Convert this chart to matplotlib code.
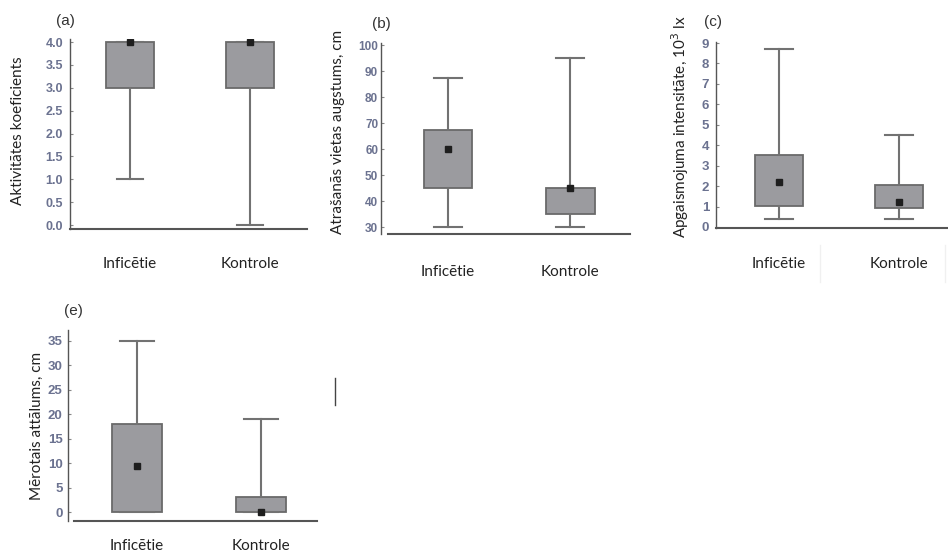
import matplotlib
matplotlib.use('Agg')
import matplotlib.pyplot as plt
from matplotlib.lines import Line2D

W, H = 948, 558

categories = ['Inficētie', 'Kontrole']

# (a) activity coefficient
a_low = [1.0, 0.0]
a_q1 = [3.0, 3.0]
a_q3 = [4.0, 4.0]
a_high = [4.0, 4.0]
a_mean = [4.0, 4.0]

# (b) height of location, cm
b_low = [30, 30]
b_q1 = [45, 35]
b_q3 = [67.5, 45]
b_high = [87.5, 95]
b_mean = [60, 45]

# (c) light intensity, 10^3 lx
c_low = [0.4, 0.4]
c_q1 = [1.05, 0.95]
c_q3 = [3.5, 2.05]
c_high = [8.7, 4.5]
c_mean = [2.2, 1.2]

# (e) measured distance, cm
e_low = [0, 0]
e_q1 = [0, 0]
e_q3 = [18, 3]
e_high = [35, 19]
e_mean = [9.5, 0]

BOX_FACE = '#9b9b9f'
BOX_EDGE = '#6a6a6a'
WHISK = '#727272'
TICK_COL = '#6b7290'
TEXT_FONT = ['Lato', 'DejaVu Sans']
NUM_FONT = ['Liberation Sans', 'DejaVu Sans']


def px_rect(left, right, top, bottom):
    return [left / W, 1 - bottom / H, (right - left) / W, (bottom - top) / H]


def panel(fig, rect, low, q1, q3, high, mean, xlim, ylim, yticks, fmt,
          cap, pad, bounds_lo=None, tick_size=9, ypad=3):
    ax = fig.add_axes(px_rect(*rect))
    stats = []
    for i in range(len(categories)):
        stats.append(dict(whislo=low[i], q1=q1[i], med=q1[i], q3=q3[i],
                          whishi=high[i], mean=mean[i]))
    ax.bxp(stats, positions=range(len(categories)), widths=0.4,
           capwidths=cap, patch_artist=True, showmeans=True,
           showfliers=False,
           boxprops=dict(facecolor=BOX_FACE, edgecolor=BOX_EDGE, linewidth=1.3),
           whiskerprops=dict(color=WHISK, linewidth=1.5),
           capprops=dict(color=WHISK, linewidth=1.5),
           medianprops=dict(linewidth=0),
           meanprops=dict(marker='s', markerfacecolor='#1e1e1e',
                          markeredgecolor='#1e1e1e', markersize=5))
    ax.set_xlim(*xlim)
    ax.set_ylim(*ylim)
    ax.set_yticks(yticks)
    ax.set_yticklabels([fmt % v for v in yticks], color=TICK_COL,
                       fontsize=tick_size, fontweight='bold', family=NUM_FONT)
    ax.set_xticks(range(len(categories)))
    ax.set_xticklabels(categories, fontsize=11, family=TEXT_FONT, color='#222222')
    ax.tick_params(axis='x', length=0, pad=pad)
    ax.tick_params(axis='y', direction='in', length=2, width=0.8,
                   color='#888888', pad=ypad)
    for s in ['top', 'right']:
        ax.spines[s].set_visible(False)
    ax.spines['left'].set_color('#555555')
    ax.spines['left'].set_linewidth(1.0)
    ax.spines['bottom'].set_color('#555555')
    ax.spines['bottom'].set_linewidth(1.5)
    if bounds_lo is not None:
        ax.spines['bottom'].set_bounds(bounds_lo, xlim[1])
    ax.patch.set_visible(False)
    return ax


fig = plt.figure(figsize=(W / 100, H / 100), dpi=100)

panel(fig, (70, 307, 39, 229), a_low, a_q1, a_q3, a_high, a_mean,
      (-0.5, 1.475), (-0.087, 4.066), [0, 0.5, 1, 1.5, 2, 2.5, 3, 3.5, 4],
      '%.1f', 0.21, 20, tick_size=9, ypad=5)
panel(fig, (381, 630, 43, 234), b_low, b_q1, b_q3, b_high, b_mean,
      (-0.549, 1.49), (27.31, 100.77), list(range(30, 101, 10)),
      '%d', 0.23, 22, bounds_lo=-0.492, tick_size=8.5, ypad=2)
panel(fig, (716, 948, 42, 228), c_low, c_q1, c_q3, c_high, c_mean,
      (-0.525, 1.408), (-0.05, 9.05), list(range(0, 10)),
      '%d', 0.23, 21, tick_size=9.5, ypad=5)
panel(fig, (68, 317, 330, 521), e_low, e_q1, e_q3, e_high, e_mean,
      (-0.556, 1.452), (-1.84, 37.25), list(range(0, 36, 5)),
      '%d', 0.27, 13, bounds_lo=-0.508, tick_size=9.5, ypad=4)

# axis titles and panel letters
ylabels = [
    (18, 131, 'Aktivitātes koeficients'),
    (338, 132, 'Atrašanās vietas augstums, cm'),
    (680, 127, 'Apgaismojuma intensitāte, 10$^3$ lx'),
    (37, 426, 'Mērotais attālums, cm'),
]
for x, y, t in ylabels:
    fig.text(x / W, 1 - y / H, t, rotation=90, ha='center', va='center',
             fontsize=11, family=TEXT_FONT, color='#222222')

letters = [(65, 21, '(a)'), (381, 24, '(b)'), (713, 22, '(c)'), (73, 311, '(e)')]
for x, y, t in letters:
    fig.text(x / W, 1 - y / H, t, ha='center', va='center',
             fontsize=11, family=NUM_FONT, color='#333333')

# stray marks from the original composite
fig.add_artist(Line2D([335 / W, 335 / W], [1 - 378 / H, 1 - 405 / H],
                      color='#444444', linewidth=1))
for x in (820, 945):
    fig.add_artist(Line2D([x / W, x / W], [1 - 245 / H, 1 - 282 / H],
                          color='#f0f0f0', linewidth=1))

fig.savefig('out.png', dpi=100, facecolor='white')
